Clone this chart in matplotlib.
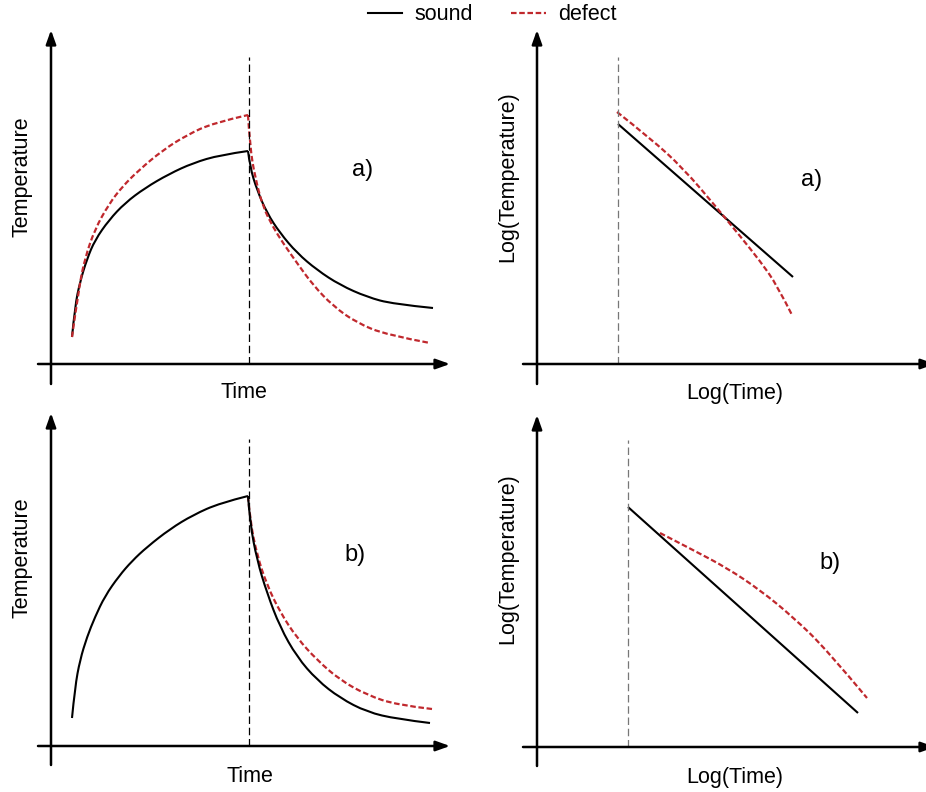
import numpy as np
import matplotlib
matplotlib.use("Agg")
import matplotlib.pyplot as plt
from matplotlib.path import Path
from matplotlib.patches import PathPatch
from matplotlib.lines import Line2D

plt.rcParams['font.family'] = ['Liberation Sans', 'DejaVu Sans']

W, H = 926, 792

# values, in arbitrary time / temperature units
# panel a), linear axes
a_sound_heat_t = [21, 24, 29, 36, 44, 58, 74, 94, 118, 142, 169, 197]
a_sound_heat_T = [27, 58, 82, 105, 124, 144, 161, 176, 190, 201, 209, 213]
a_sound_cool_t = [197, 199, 206, 216, 229, 246, 266, 289, 316, 342, 382]
a_sound_cool_T = [213, 197, 174, 151, 131, 111, 94, 79, 67, 60, 56]
a_defect_heat_t = [21, 28, 34, 44, 58, 71, 88, 112, 136, 162, 197]
a_defect_heat_T = [27, 77, 106, 135, 160, 177, 194, 214, 229, 241, 249]
a_defect_cool_t = [197, 199, 204, 212, 222, 232, 246, 262, 282, 306, 336, 379]
a_defect_cool_T = [249, 217, 187, 157, 137, 121, 101, 79, 58, 41, 29, 21]

# panel a), log axes
a_log_sound_t = [81, 256]
a_log_sound_T = [240, 87]
a_log_defect_t = [80, 113, 146, 180, 203, 223, 240, 255]
a_log_defect_T = [252, 226, 196, 156, 128, 103, 79, 49]

# panel b), linear axes
b_sound_heat_t = [21, 24, 29, 36, 44, 54, 68, 81, 96, 119, 142, 169, 197]
b_sound_heat_T = [28, 59, 86, 109, 129, 150, 170, 185, 199, 217, 231, 243, 250]
b_sound_cool_t = [197, 199, 206, 216, 229, 246, 266, 289, 316, 346, 379]
b_sound_cool_T = [250, 223, 186, 153, 119, 89, 66, 48, 34, 27, 23]
b_defect_cool_t = [197, 199, 206, 216, 229, 246, 266, 289, 316, 346, 381]
b_defect_cool_T = [250, 226, 191, 161, 134, 108, 86, 66, 51, 41, 37]

# panel b), log axes
b_log_sound_t = [91, 321]
b_log_sound_T = [240, 34]
b_log_defect_t = [123, 156, 190, 223, 256, 290, 330]
b_log_defect_T = [214, 197, 179, 157, 130, 97, 49]

pulse_end = [198, 81, 198, 91]

red = '#c0282d'

fig = plt.figure(figsize=(W / 100, H / 100), dpi=100)


def panel(x0, y0, xlim, ylim):
	# x0, y0: pixel position of the axes origin
	left = (x0 + xlim[0]) / W
	width = (xlim[1] - xlim[0]) / W
	bottom = (H - (y0 - ylim[0])) / H
	height = (ylim[1] - ylim[0]) / H
	ax = fig.add_axes([left, bottom, width, height])
	ax.set_xlim(*xlim)
	ax.set_ylim(*ylim)
	ax.axis('off')
	arrow = dict(arrowstyle='-|>,head_length=0.7,head_width=0.25', lw=1.8,
		color='black', shrinkA=0, shrinkB=0, mutation_scale=12)
	ax.annotate('', xy=(xlim[1], 0), xytext=(xlim[0], 0), arrowprops=arrow,
		annotation_clip=False)
	ax.annotate('', xy=(0, ylim[1]), xytext=(0, ylim[0]), arrowprops=arrow,
		annotation_clip=False)
	return ax


def curve(ax, t, T, **kw):
	# smooth quadratic bezier through the read points (midpoint anchors)
	p = list(zip(t, T))
	if len(p) < 3:
		verts, codes = p, [Path.MOVETO, Path.LINETO]
	else:
		verts, codes = [p[0]], [Path.MOVETO]
		for i in range(1, len(p) - 1):
			if i < len(p) - 2:
				end = ((p[i][0] + p[i + 1][0]) / 2, (p[i][1] + p[i + 1][1]) / 2)
			else:
				end = p[-1]
			verts += [p[i], end]
			codes += [Path.CURVE3, Path.CURVE3]
	ax.add_patch(PathPatch(Path(verts, codes), fill=False, capstyle='butt',
		joinstyle='round', **kw))


ax1 = panel(51, 364, (-13, 399), (-20, 334))
ax2 = panel(537, 364, (-14, 398), (-20, 334))
ax3 = panel(51, 746, (-13, 399), (-19, 333))
ax4 = panel(537, 747, (-14, 398), (-19, 332))

sound_kw = dict(edgecolor='black', lw=1.5)
defect_kw = dict(edgecolor=red, lw=1.6, ls=(0, (2.5, 1.2)))

# a) linear
curve(ax1, a_sound_heat_t, a_sound_heat_T, **sound_kw)
curve(ax1, a_sound_cool_t, a_sound_cool_T, **sound_kw)
curve(ax1, a_defect_heat_t, a_defect_heat_T, **defect_kw)
curve(ax1, a_defect_cool_t, a_defect_cool_T, **defect_kw)

# a) log
curve(ax2, a_log_sound_t, a_log_sound_T, **sound_kw)
curve(ax2, a_log_defect_t, a_log_defect_T, **defect_kw)

# b) linear
curve(ax3, b_sound_heat_t, b_sound_heat_T, **sound_kw)
curve(ax3, b_defect_cool_t, b_defect_cool_T, **defect_kw)
curve(ax3, b_sound_cool_t, b_sound_cool_T, **sound_kw)

# b) log
curve(ax4, b_log_defect_t, b_log_defect_T, **defect_kw)
curve(ax4, b_log_sound_t, b_log_sound_T, **sound_kw)

for ax, xe, c in zip([ax1, ax2, ax3, ax4], pulse_end, ['black', '#777777', 'black', '#777777']):
	ax.plot([xe, xe], [0, 307], color=c, lw=0.9, ls=(0, (6, 3)))

fs = 15.5
def ftext(x, y, s, size=fs, **kw):
	fig.text(x / W, 1 - y / H, s, ha='center', va='center', fontsize=size, **kw)

ftext(22, 177, 'Temperature', rotation=90)
ftext(22, 558, 'Temperature', rotation=90)
ftext(508, 177, 'Log(Temperature)', rotation=90)
ftext(508, 559, 'Log(Temperature)', rotation=90)
ftext(244, 393, 'Time')
ftext(250, 776, 'Time')
ftext(735, 393, 'Log(Time)')
ftext(735, 777, 'Log(Time)')
ftext(363, 170, 'a)', size=17)
ftext(812, 180, 'a)', size=17)
ftext(355, 555, 'b)', size=17)
ftext(830, 563, 'b)', size=17)

handles = [Line2D([], [], color='black', lw=1.5),
	Line2D([], [], color=red, lw=1.6, ls=(0, (2.5, 1.2)))]
fig.legend(handles, ['sound', 'defect'], loc='center',
	bbox_to_anchor=(492 / W, 1 - 15 / H), ncol=2, frameon=False, fontsize=fs,
	handlelength=1.6, handletextpad=0.55, columnspacing=1.8, borderpad=0)

fig.savefig('out.png', dpi=100)
